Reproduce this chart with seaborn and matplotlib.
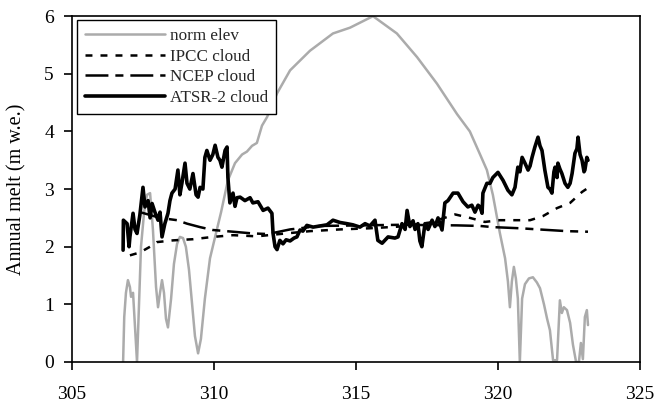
import matplotlib
matplotlib.use("Agg")
import matplotlib.pyplot as plt
import pandas as pd
import seaborn as sns

# Normalised surface elevation along the transect
elev_x = [306.80, 306.84, 306.90, 306.97, 307.04, 307.08, 307.15, 307.22, 307.29, 307.36,
          307.43, 307.54, 307.64, 307.75, 307.85, 307.96, 308.03, 308.10, 308.17, 308.24,
          308.31, 308.38, 308.49, 308.59, 308.70, 308.80, 308.91, 309.01, 309.12, 309.23,
          309.33, 309.44, 309.54, 309.68, 309.86, 310.04, 310.25, 310.49, 310.74, 310.99,
          311.16, 311.34, 311.51, 311.69, 311.87, 312.22, 312.68, 313.38, 314.19, 314.79,
          315.60, 316.02, 316.44, 317.15, 317.85, 318.56, 319.01, 319.37, 319.61, 319.82,
          320.07, 320.25, 320.35, 320.42, 320.49, 320.56, 320.63, 320.70, 320.77, 320.85,
          320.95, 321.09, 321.23, 321.37, 321.48, 321.62, 321.73, 321.83, 321.94, 322.08,
          322.18, 322.25, 322.32, 322.43, 322.54, 322.64, 322.75, 322.85, 322.92, 322.99,
          323.06, 323.13, 323.17]
elev_y = [0.00, 0.78, 1.20, 1.42, 1.30, 1.13, 1.20, 0.60, 0.00, 1.00,
          2.00, 2.60, 2.90, 2.93, 2.30, 1.30, 0.95, 1.20, 1.42, 1.20,
          0.75, 0.60, 1.10, 1.70, 2.05, 2.17, 2.15, 2.00, 1.60, 1.00,
          0.45, 0.15, 0.40, 1.10, 1.80, 2.17, 2.60, 3.15, 3.45, 3.60,
          3.65, 3.75, 3.80, 4.10, 4.25, 4.66, 5.06, 5.40, 5.70, 5.80,
          6.00, 5.85, 5.70, 5.29, 4.83, 4.30, 4.00, 3.60, 3.33, 2.90,
          2.23, 1.80, 1.40, 0.95, 1.40, 1.65, 1.45, 1.10, 0.00, 1.10,
          1.35, 1.45, 1.47, 1.38, 1.28, 1.00, 0.75, 0.55, 0.03, 0.03,
          1.07, 0.85, 0.95, 0.90, 0.68, 0.30, 0.00, 0.00, 0.33, 0.05,
          0.78, 0.90, 0.64]

# Annual melt with IPCC cloud climatology
ipcc_x = [307.04, 307.39, 307.75, 307.99, 308.56, 309.26, 309.96, 310.67, 311.51, 312.32,
          313.38, 314.44, 315.49, 316.55, 317.61, 318.49, 319.01, 319.54, 320.07, 321.13,
          321.58, 322.08, 322.54, 322.96, 323.17]
ipcc_y = [1.85, 1.90, 2.00, 2.08, 2.11, 2.13, 2.17, 2.20, 2.18, 2.22,
          2.27, 2.30, 2.32, 2.35, 2.42, 2.56, 2.50, 2.43, 2.46, 2.46,
          2.53, 2.67, 2.76, 2.95, 3.02]

# Annual melt with NCEP cloud
ncep_x = [307.39, 307.75, 308.10, 308.70, 309.05, 309.51, 309.96, 310.67, 311.37, 311.90,
          312.68, 313.73, 315.14, 316.55, 318.56, 319.37, 319.82, 320.77, 321.76, 322.43,
          323.17]
ncep_y = [2.60, 2.55, 2.50, 2.46, 2.40, 2.34, 2.29, 2.26, 2.23, 2.22,
          2.30, 2.36, 2.37, 2.38, 2.37, 2.36, 2.34, 2.32, 2.29, 2.27,
          2.26]

# Annual melt with ATSR-2 cloud
atsr_x = [306.80, 306.81, 306.94, 307.01, 307.04, 307.15, 307.22, 307.29, 307.39, 307.50,
          307.57, 307.68, 307.75, 307.82, 307.92, 308.03, 308.10, 308.17, 308.27, 308.38,
          308.45, 308.52, 308.63, 308.73, 308.80, 308.87, 308.98, 309.05, 309.15, 309.26,
          309.37, 309.44, 309.51, 309.61, 309.68, 309.75, 309.86, 309.96, 310.04, 310.14,
          310.21, 310.28, 310.39, 310.46, 310.49, 310.56, 310.67, 310.74, 310.81, 310.92,
          311.09, 311.27, 311.37, 311.55, 311.73, 311.90, 312.04, 312.08, 312.15, 312.22,
          312.32, 312.43, 312.54, 312.68, 312.82, 312.92, 313.03, 313.13, 313.27, 313.49,
          313.73, 313.98, 314.19, 314.44, 314.68, 314.89, 315.14, 315.32, 315.49, 315.67,
          315.77, 315.92, 316.13, 316.37, 316.48, 316.62, 316.73, 316.80, 316.90, 317.01,
          317.08, 317.18, 317.25, 317.32, 317.43, 317.54, 317.68, 317.78, 317.89, 318.03,
          318.13, 318.24, 318.42, 318.59, 318.77, 318.94, 319.08, 319.19, 319.30, 319.37,
          319.44, 319.47, 319.61, 319.72, 319.82, 320.00, 320.18, 320.35, 320.49, 320.60,
          320.70, 320.77, 320.85, 320.95, 321.06, 321.13, 321.20, 321.30, 321.41, 321.48,
          321.55, 321.65, 321.76, 321.83, 321.90, 321.97, 322.01, 322.08, 322.11, 322.18,
          322.25, 322.36, 322.46, 322.54, 322.61, 322.71, 322.78, 322.82, 322.89, 322.96,
          323.03, 323.06, 323.13, 323.17]
atsr_y = [1.94, 2.46, 2.40, 2.00, 2.17, 2.58, 2.30, 2.23, 2.55, 3.03,
          2.69, 2.80, 2.50, 2.75, 2.60, 2.46, 2.60, 2.17, 2.40, 2.58,
          2.80, 2.93, 3.00, 3.33, 2.90, 3.10, 3.45, 3.10, 3.00, 3.27,
          2.90, 2.86, 3.03, 3.00, 3.55, 3.67, 3.50, 3.60, 3.76, 3.55,
          3.50, 3.38, 3.67, 3.73, 3.20, 2.76, 2.93, 2.70, 2.85, 2.86,
          2.80, 2.85, 2.76, 2.78, 2.63, 2.67, 2.58, 2.23, 2.00, 1.95,
          2.11, 2.05, 2.12, 2.10, 2.15, 2.17, 2.29, 2.27, 2.37, 2.34,
          2.36, 2.38, 2.46, 2.42, 2.40, 2.38, 2.34, 2.40, 2.36, 2.46,
          2.11, 2.06, 2.17, 2.15, 2.17, 2.40, 2.30, 2.63, 2.35, 2.45,
          2.30, 2.40, 2.10, 2.00, 2.40, 2.30, 2.46, 2.35, 2.50, 2.29,
          2.76, 2.80, 2.93, 2.93, 2.78, 2.69, 2.72, 2.60, 2.72, 2.69,
          2.58, 2.93, 3.10, 3.10, 3.20, 3.29, 3.15, 2.98, 2.90, 3.03,
          3.38, 3.30, 3.55, 3.45, 3.33, 3.40, 3.55, 3.73, 3.90, 3.75,
          3.67, 3.33, 3.03, 3.00, 2.93, 3.30, 3.38, 3.20, 3.45, 3.35,
          3.27, 3.10, 3.03, 3.10, 3.27, 3.62, 3.70, 3.90, 3.60, 3.50,
          3.30, 3.33, 3.55, 3.50]

x_ticks = [305, 310, 315, 320, 325]
y_ticks = [0, 1, 2, 3, 4, 5, 6]

sns.set_theme(style="ticks")
plt.rcParams["font.family"] = ["Liberation Serif", "DejaVu Serif"]
plt.rcParams["lines.scale_dashes"] = False

fig = plt.figure(figsize=(6.69, 4.04), dpi=100)
ax = fig.add_axes([0.1076, 0.104, 0.849, 0.856])

series = [
    ("norm elev", elev_x, elev_y, dict(color="#ababab", lw=1.8, linestyle="-")),
    ("IPCC cloud", ipcc_x, ipcc_y, dict(color="black", lw=1.8, linestyle=(0, (5.0, 5.8)))),
    ("NCEP cloud", ncep_x, ncep_y, dict(color="black", lw=1.8, linestyle=(0, (16.5, 5.0, 5.8, 5.0)))),
    ("ATSR-2 cloud", atsr_x, atsr_y, dict(color="black", lw=2.6, linestyle="-")),
]
for name, xs, ys, style in series:
    df = pd.DataFrame({"x": xs, "y": ys})
    sns.lineplot(data=df, x="x", y="y", ax=ax, label=name, estimator=None,
                 sort=False, **style)

ax.set_xlim(305, 325)
ax.set_ylim(0, 6)
ax.set_xticks(x_ticks)
ax.set_yticks(y_ticks)
ax.set_xlabel("")
ax.set_ylabel("Annual melt (m w.e.)", fontsize=14.5, color="black", labelpad=13)
ax.tick_params(axis="both", direction="out", length=6, width=1.2, colors="black",
               labelsize=14)
ax.tick_params(axis="x", pad=11)
ax.tick_params(axis="y", pad=7)
for sp in ax.spines.values():
    sp.set_visible(True)
    sp.set_color("black")
    sp.set_linewidth(1.2)

leg = ax.legend(loc="upper left", bbox_to_anchor=(0.0088, 0.988), borderaxespad=0,
                fontsize=12.3, handlelength=4.7, handletextpad=0.3, labelspacing=0.27,
                borderpad=0.45, frameon=True, fancybox=False, framealpha=1)
leg.get_frame().set_edgecolor("black")
leg.get_frame().set_linewidth(1.0)

fig.savefig("out.png", dpi=100)
